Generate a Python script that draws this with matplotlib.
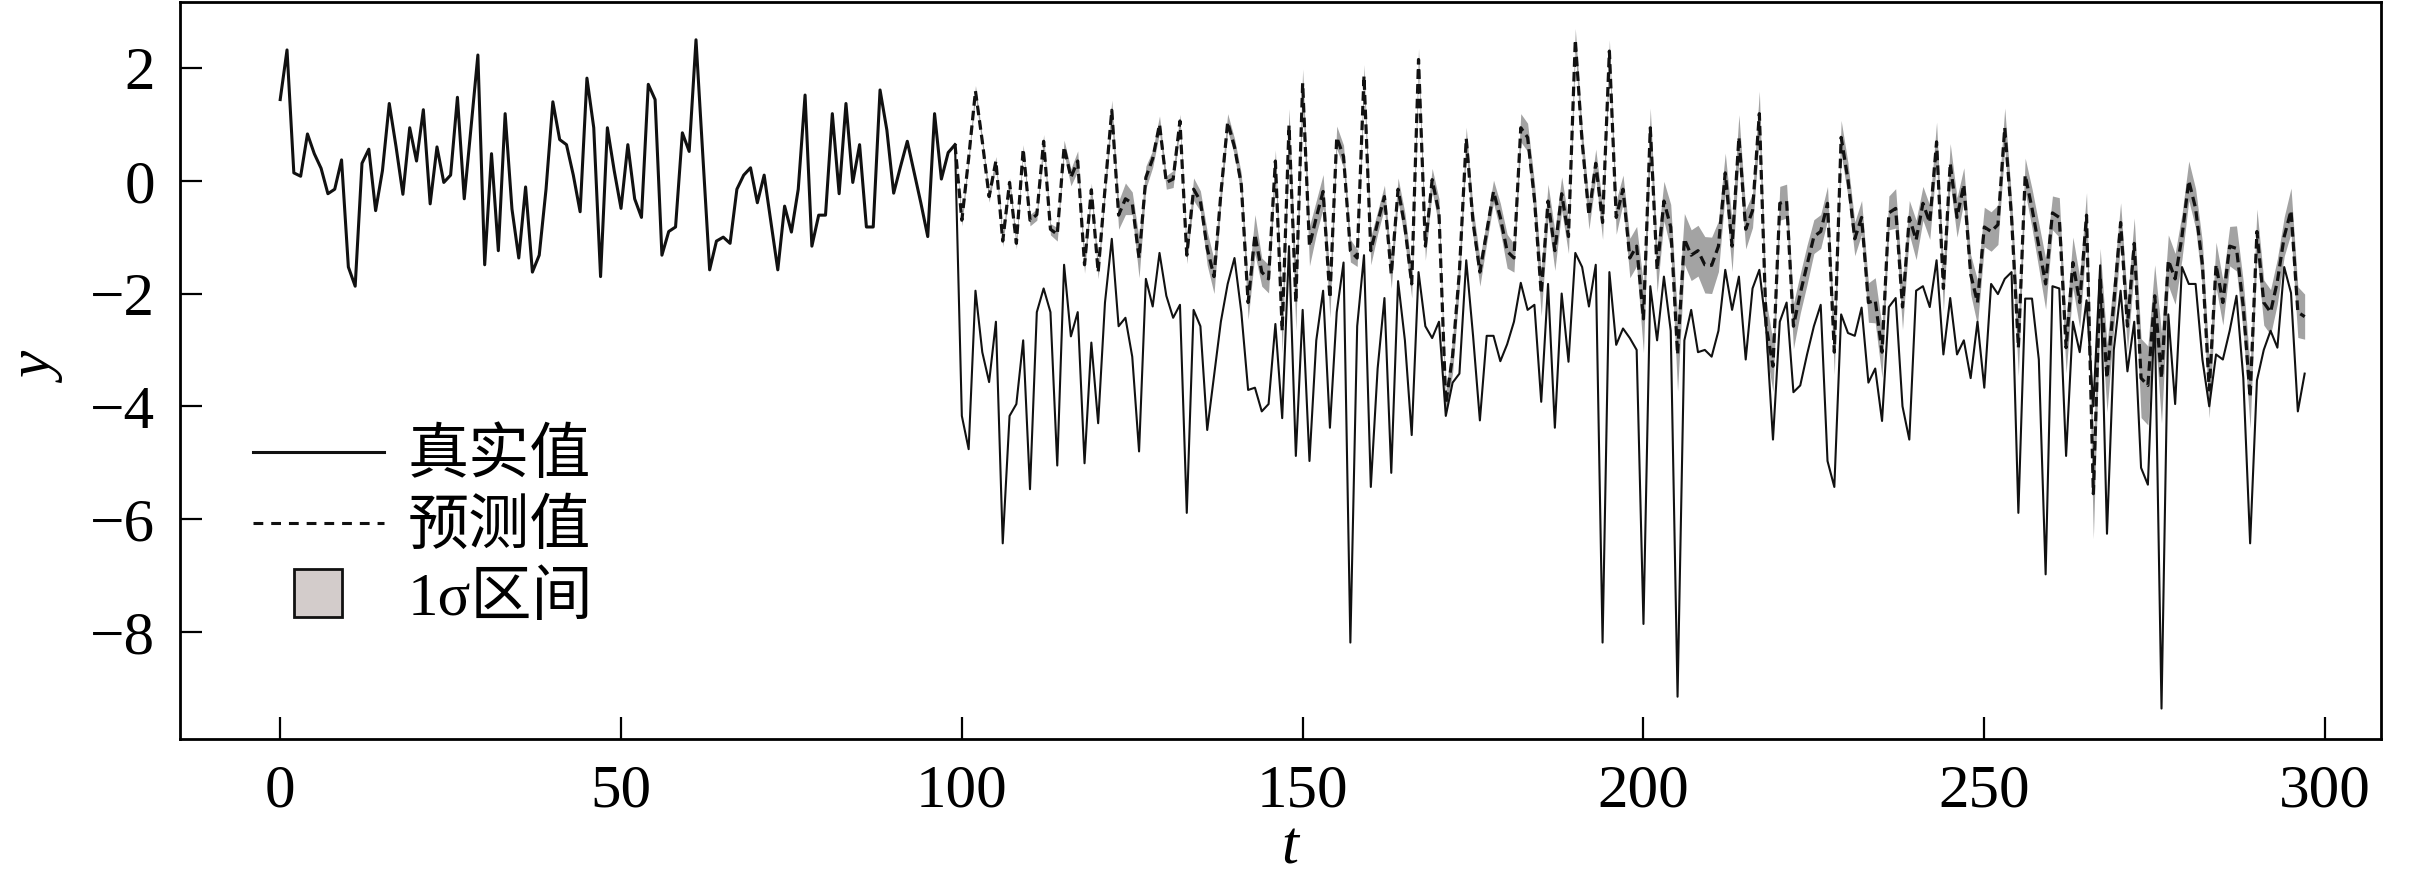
import matplotlib
matplotlib.use('Agg')
import matplotlib.pyplot as plt
import numpy as np
from matplotlib.lines import Line2D

# ---------------- data ----------------
true_vals = [
    1.44, 2.32, 0.14, 0.08, 0.83, 0.48, 0.22, -0.23, -0.15, 0.37,
    -1.53, -1.87, 0.31, 0.56, -0.53, 0.18, 1.37, 0.60, -0.24, 0.94,
    0.35, 1.26, -0.41, 0.60, -0.03, 0.10, 1.48, -0.32, 0.95, 2.23,
    -1.49, 0.48, -1.24, 1.19, -0.50, -1.37, -0.11, -1.62, -1.32, -0.15,
    1.40, 0.73, 0.64, 0.10, -0.55, 1.82, 0.94, -1.70, 0.94, 0.18,
    -0.49, 0.64, -0.32, -0.65, 1.71, 1.44, -1.32, -0.90, -0.82, 0.85,
    0.52, 2.50, 0.45, -1.58, -1.07, -1.00, -1.11, -0.15, 0.10, 0.23,
    -0.39, 0.10, -0.74, -1.58, -0.45, -0.91, -0.15, 1.52, -1.16, -0.61,
    -0.61, 1.19, -0.23, 1.37, -0.03, 0.64, -0.82, -0.82, 1.61, 0.90,
    -0.22, 0.25, 0.70, 0.15, -0.40, -0.99, 1.19, 0.03, 0.50, 0.64,
    -4.17, -4.76, -1.95, -3.04, -3.57, -2.50, -6.43, -4.17, -3.96, -2.83,
    -5.47, -2.33, -1.91, -2.33, -5.05, -1.49, -2.76, -2.33, -5.01, -2.87,
    -4.30, -2.16, -1.03, -2.58, -2.43, -3.12, -4.80, -1.74, -2.23, -1.28,
    -2.04, -2.43, -2.20, -5.89, -2.29, -2.58, -4.42, -3.46, -2.50, -1.83,
    -1.37, -2.33, -3.71, -3.67, -4.09, -3.96, -2.54, -4.21, -1.16, -4.88,
    -2.29, -4.97, -2.83, -1.95, -4.38, -2.33, -1.45, -8.19, -2.58, -1.32,
    -5.43, -3.33, -2.08, -5.18, -1.78, -2.83, -4.51, -1.62, -2.58, -2.79,
    -2.50, -4.17, -3.58, -3.42, -1.41, -2.75, -4.25, -2.75, -2.75, -3.20,
    -2.90, -2.50, -1.81, -2.29, -2.20, -3.92, -1.83, -4.38, -2.00, -3.21,
    -1.28, -1.53, -2.23, -1.49, -8.19, -1.62, -2.91, -2.62, -2.79, -3.00,
    -7.86, -1.87, -2.83, -1.70, -2.66, -9.15, -2.83, -2.29, -3.04, -3.00,
    -3.12, -2.66, -1.58, -2.29, -1.70, -3.17, -1.91, -1.58, -2.62, -4.59,
    -2.50, -2.16, -3.75, -3.63, -3.08, -2.58, -2.20, -4.97, -5.43, -2.37,
    -2.70, -2.75, -2.25, -3.58, -3.33, -4.26, -2.24, -2.08, -4.00, -4.59,
    -1.95, -1.87, -2.24, -1.41, -3.08, -2.08, -3.08, -2.83, -3.50, -2.50,
    -3.67, -1.83, -2.01, -1.74, -1.62, -5.89, -2.09, -2.09, -3.17, -6.98,
    -1.87, -1.91, -4.88, -2.50, -3.04, -2.12, -4.00, -1.50, -6.26, -3.00,
    -1.95, -3.38, -2.50, -5.09, -5.39, -2.29, -9.36, -2.37, -3.96, -1.53,
    -1.83, -1.83, -3.17, -4.00, -3.08, -3.17, -2.66, -2.04, -3.50, -6.43,
    -3.54, -3.00, -2.66, -2.96, -1.53, -1.99, -4.09, -3.42,
]

pred_start = 99
pred_vals = [
    0.64,
    -0.70, 0.40, 1.59, 0.70, -0.28, 0.35, -1.07, -0.03, -1.11, 0.56,
    -0.70, -0.60, 0.70, -0.86, -0.95, 0.60, 0.06, 0.35, -1.49, -0.16,
    -1.62, -0.15, 1.25, -0.61, -0.32, -0.40, -1.37, 0.06, 0.39, 1.00,
    -0.03, 0.03, 1.06, -1.32, -0.15, -0.36, -1.20, -1.70, -0.23, 1.04,
    0.60, -0.07, -2.16, -0.95, -1.62, -1.74, 0.35, -2.66, 0.98, -2.16,
    1.73, -1.16, -0.65, -0.19, -2.08, 0.77, 0.43, -1.24, -1.37, 1.86,
    -1.24, -0.74, -0.28, -1.66, -0.15, -0.82, -1.83, 2.15, -1.16, 0.02,
    -0.57, -3.95, -3.10, -1.60, 0.75, -0.74, -1.62, -0.90, -0.19, -0.65,
    -1.25, -1.37, 0.94, 0.77, -0.32, -2.00, -0.36, -1.24, -0.23, -0.99,
    2.50, 0.69, -0.61, 0.31, -0.74, 2.30, -0.65, -0.15, -1.37, -1.16,
    -2.45, 0.94, -1.58, -0.36, -0.82, -3.08, -1.03, -1.32, -1.24, -1.49,
    -1.50, -1.16, 0.14, -1.16, 0.77, -0.86, -0.53, 1.19, -2.58, -3.29,
    -0.40, -0.36, -2.58, -2.00, -1.49, -0.99, -0.90, -0.40, -3.04, 0.77,
    0.02, -1.03, -0.65, -2.16, -2.12, -3.04, -0.57, -0.49, -2.24, -0.65,
    -1.05, -0.40, -0.74, 0.69, -1.91, 0.31, -0.65, -0.07, -1.66, -2.16,
    -0.82, -0.90, -0.78, 0.94, -0.65, -2.96, 0.10, -0.49, -1.16, -1.83,
    -0.57, -0.65, -2.96, -1.45, -2.16, -0.61, -5.55, -1.70, -3.50, -2.16,
    -0.74, -2.58, -1.11, -3.50, -3.63, -2.04, -3.50, -1.41, -1.74, -0.99,
    0.00, -0.49, -1.49, -3.71, -1.49, -2.16, -1.16, -1.20, -2.24, -3.84,
    -0.90, -2.16, -2.33, -1.78, -0.99, -0.53, -2.33, -2.41,
]

pred_std = [
    0.02,
    0.10, 0.08, 0.10, 0.08, 0.10, 0.08, 0.10, 0.08, 0.10, 0.08,
    0.10, 0.10, 0.12, 0.10, 0.12, 0.12, 0.15, 0.18, 0.15, 0.12,
    0.12, 0.15, 0.18, 0.25, 0.28, 0.20, 0.35, 0.20, 0.15, 0.15,
    0.12, 0.15, 0.12, 0.15, 0.20, 0.18, 0.30, 0.30, 0.20, 0.15,
    0.15, 0.20, 0.30, 0.35, 0.25, 0.25, 0.20, 0.40, 0.30, 0.50,
    0.25, 0.35, 0.30, 0.30, 0.35, 0.20, 0.20, 0.20, 0.15, 0.20,
    0.25, 0.20, 0.20, 0.25, 0.20, 0.25, 0.25, 0.20, 0.25, 0.20,
    0.25, 0.20, 0.30, 0.30, 0.20, 0.25, 0.25, 0.20, 0.20, 0.25,
    0.30, 0.25, 0.25, 0.25, 0.30, 0.40, 0.30, 0.35, 0.30, 0.30,
    0.20, 0.25, 0.25, 0.25, 0.30, 0.20, 0.30, 0.25, 0.35, 0.35,
    0.60, 0.35, 0.40, 0.35, 0.40, 0.65, 0.45, 0.45, 0.45, 0.50,
    0.50, 0.45, 0.35, 0.45, 0.40, 0.35, 0.30, 0.40, 0.45, 0.45,
    0.30, 0.30, 0.40, 0.35, 0.35, 0.30, 0.30, 0.30, 0.40, 0.30,
    0.30, 0.30, 0.30, 0.35, 0.40, 0.45, 0.30, 0.35, 0.40, 0.30,
    0.35, 0.30, 0.30, 0.35, 0.40, 0.35, 0.35, 0.30, 0.35, 0.40,
    0.35, 0.35, 0.35, 0.35, 0.35, 0.50, 0.30, 0.35, 0.40, 0.45,
    0.30, 0.35, 0.45, 0.45, 0.45, 0.40, 0.80, 0.50, 0.60, 0.45,
    0.35, 0.45, 0.45, 0.70, 0.70, 0.55, 0.80, 0.45, 0.45, 0.40,
    0.35, 0.35, 0.40, 0.50, 0.40, 0.40, 0.35, 0.40, 0.45, 0.55,
    0.40, 0.40, 0.40, 0.40, 0.35, 0.40, 0.45, 0.40,
]

x_ticks = [0, 50, 100, 150, 200, 250, 300]
y_ticks = [-8, -6, -4, -2, 0, 2]
legend_labels = ['真实值', '预测值', '1σ区间']

# ---------------- figure ----------------
plt.rcParams['font.family'] = ['Liberation Serif', 'Noto Sans CJK SC', 'DejaVu Sans']
plt.rcParams['axes.unicode_minus'] = True

fig = plt.figure(figsize=(12.045, 4.465), dpi=200)
ax = fig.add_axes([180 / 2409, 1 - 739 / 893, (2381 - 180) / 2409, (739 - 2) / 893])

t_all = np.arange(len(true_vals))
y_true = np.array(true_vals)
t_pred = np.arange(pred_start, pred_start + len(pred_vals))
y_pred = np.array(pred_vals)
s_pred = np.array(pred_std)

band_color = '#a3a3a3'
ax.fill_between(t_pred, y_pred - s_pred, y_pred + s_pred, color=band_color,
                linewidth=0, zorder=1)
ax.plot(t_all[:pred_start + 1], y_true[:pred_start + 1], color='#111111',
        lw=1.1, zorder=4)
ax.plot(t_all[pred_start:], y_true[pred_start:], color='#111111',
        lw=0.75, zorder=4)
ax.plot(t_pred, y_pred, color='#111111', lw=1.15, zorder=3,
        linestyle=(0, (3.0, 1.6)))

ax.set_xlim(-14.7, 308.2)
ax.set_ylim(-9.9, 3.17)
ax.set_xticks(x_ticks)
ax.set_yticks(y_ticks)
ax.tick_params(direction='in', length=8, width=0.8, labelsize=22, pad=9,
               top=False, right=False)
for sp in ax.spines.values():
    sp.set_linewidth(1.0)
for lab in ax.get_xticklabels() + ax.get_yticklabels():
    lab.set_family('Liberation Serif')

fig.text(1290 / 2409, 1 - 849 / 893, 't', fontsize=22, style='italic',
         family='Liberation Serif', ha='center', va='center')
fig.text(40 / 2409, 1 - 369 / 893, 'y', fontsize=22, style='italic',
         family='Liberation Serif', ha='center', va='center', rotation=90)

handles = [
    Line2D([], [], color='#111111', lw=1.1),
    Line2D([], [], color='#111111', lw=1.1, linestyle=(0, (3.2, 2.6))),
    Line2D([], [], linestyle='none', marker='s', markersize=17,
           markerfacecolor='#d3cccb', markeredgecolor='#111111',
           markeredgewidth=1.0),
]
leg = ax.legend(handles, legend_labels, loc='upper left',
                bbox_to_anchor=(0.033, 0.42), frameon=False,
                fontsize=22, handlelength=2.15, handletextpad=0.38,
                labelspacing=0.24, borderpad=0, borderaxespad=0)
for txt in leg.get_texts():
    txt.set_family(['Liberation Serif', 'Noto Sans CJK SC'])

fig.savefig('out.png', dpi=200)
